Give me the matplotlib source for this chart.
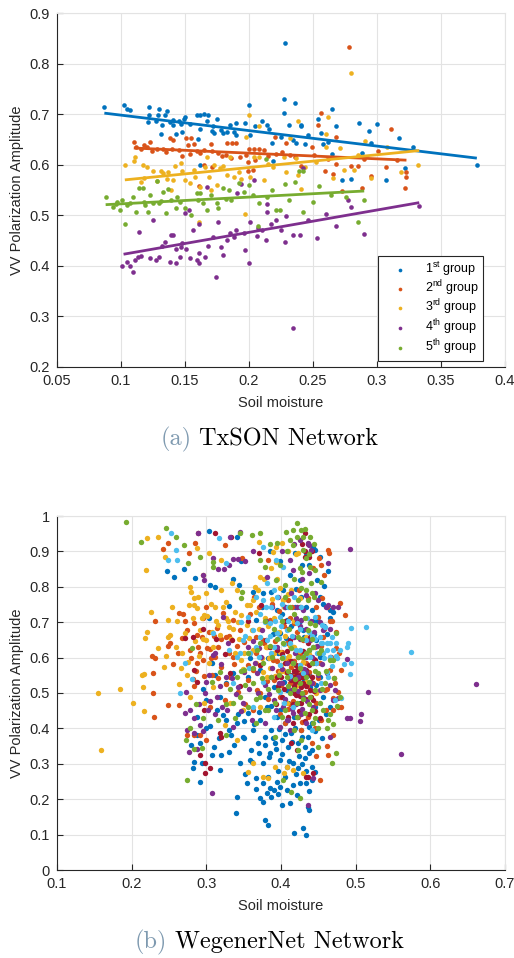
import matplotlib
matplotlib.use("Agg")
import matplotlib.pyplot as plt
import numpy as np

plt.rcParams['font.family'] = ['Liberation Sans', 'DejaVu Sans']
plt.rcParams['mathtext.fontset'] = 'custom'
plt.rcParams['mathtext.rm'] = 'Liberation Sans'
plt.rcParams['mathtext.it'] = 'Liberation Sans:italic'

# ---------------- colours (MATLAB default order) ----------------
C_BLUE, C_ORANGE, C_YELLOW, C_PURPLE, C_GREEN, C_CYAN, C_DRED = (
    '#0072BD', '#D95319', '#EDB120', '#7E2F8E', '#77AC30', '#4DBEEE', '#A2142F')

# ---------------- (a) TxSON data ----------------
tx_labels = ['1$^{\\rm st}$ group', '2$^{\\rm nd}$ group', '3$^{\\rm rd}$ group',
             '4$^{\\rm th}$ group', '5$^{\\rm th}$ group']

tx_g1 = [(0.087,0.714),(0.102,0.718),(0.105,0.711),(0.107,0.708),(0.122,0.714),(0.122,0.699),(0.121,0.684),
 (0.130,0.711),(0.129,0.699),(0.127,0.687),(0.136,0.707),(0.134,0.699),(0.132,0.679),(0.131,0.660),
 (0.141,0.689),(0.141,0.678),(0.143,0.660),(0.147,0.681),(0.149,0.691),(0.150,0.695),(0.148,0.664),
 (0.154,0.681),(0.159,0.699),(0.162,0.699),(0.165,0.701),(0.168,0.699),(0.167,0.687),(0.162,0.670),
 (0.160,0.650),(0.162,0.600),(0.175,0.691),(0.172,0.676),(0.173,0.662),(0.178,0.669),(0.185,0.678),
 (0.183,0.664),(0.190,0.683),(0.190,0.659),(0.200,0.718),(0.197,0.682),(0.201,0.659),(0.210,0.687),
 (0.205,0.677),(0.214,0.679),(0.216,0.670),(0.219,0.608),(0.218,0.642),(0.228,0.840),(0.227,0.730),
 (0.227,0.702),(0.231,0.679),(0.236,0.722),(0.234,0.649),(0.237,0.642),(0.241,0.679),(0.241,0.676),
 (0.244,0.641),(0.254,0.691),(0.256,0.663),(0.258,0.641),(0.265,0.710),(0.268,0.676),(0.265,0.621),
 (0.273,0.570),(0.280,0.572),(0.286,0.683),(0.288,0.624),(0.294,0.667),(0.295,0.643),(0.300,0.680),
 (0.307,0.570),(0.317,0.652),(0.322,0.593),(0.328,0.636),(0.378,0.600),(0.188,0.664),(0.138,0.684),
 (0.145,0.686),(0.171,0.666),(0.180,0.662),(0.225,0.655),(0.246,0.658),(0.262,0.645)]

tx_g2 = [(0.110,0.644),(0.112,0.635),(0.116,0.632),(0.120,0.635),(0.123,0.644),(0.124,0.628),(0.128,0.632),
 (0.133,0.631),(0.138,0.652),(0.141,0.648),(0.140,0.632),(0.145,0.630),(0.151,0.652),(0.155,0.652),
 (0.152,0.639),(0.148,0.617),(0.157,0.641),(0.154,0.621),(0.159,0.627),(0.161,0.558),(0.165,0.600),
 (0.165,0.630),(0.170,0.641),(0.171,0.627),(0.171,0.596),(0.176,0.623),(0.179,0.618),(0.183,0.643),
 (0.187,0.643),(0.190,0.643),(0.186,0.613),(0.193,0.616),(0.198,0.619),(0.200,0.631),(0.204,0.631),
 (0.208,0.631),(0.203,0.590),(0.205,0.610),(0.199,0.605),(0.199,0.588),(0.212,0.630),(0.220,0.655),
 (0.221,0.621),(0.226,0.626),(0.229,0.643),(0.232,0.619),(0.241,0.597),(0.249,0.636),(0.256,0.703),
 (0.254,0.679),(0.251,0.619),(0.259,0.588),(0.266,0.582),(0.268,0.655),(0.268,0.601),(0.273,0.548),
 (0.278,0.832),(0.280,0.597),(0.285,0.597),(0.288,0.553),(0.295,0.577),(0.301,0.627),(0.307,0.596),
 (0.311,0.671),(0.322,0.553),(0.323,0.576),(0.323,0.585),(0.118,0.638),(0.135,0.626),(0.162,0.624),
 (0.182,0.620),(0.215,0.618),(0.236,0.615),(0.262,0.612),(0.290,0.612),(0.316,0.610)]

tx_g3 = [(0.103,0.600),(0.111,0.616),(0.110,0.608),(0.116,0.565),(0.117,0.600),(0.120,0.596),(0.118,0.574),
 (0.125,0.588),(0.128,0.567),(0.131,0.588),(0.133,0.583),(0.136,0.572),(0.139,0.550),(0.142,0.598),
 (0.141,0.570),(0.147,0.603),(0.148,0.588),(0.150,0.570),(0.154,0.563),(0.158,0.576),(0.162,0.555),
 (0.166,0.596),(0.167,0.616),(0.169,0.576),(0.170,0.550),(0.175,0.560),(0.173,0.600),(0.177,0.593),
 (0.183,0.580),(0.185,0.616),(0.188,0.576),(0.192,0.586),(0.194,0.572),(0.200,0.699),(0.198,0.655),
 (0.197,0.502),(0.201,0.576),(0.204,0.616),(0.208,0.676),(0.208,0.616),(0.212,0.570),(0.219,0.596),
 (0.227,0.616),(0.229,0.585),(0.232,0.652),(0.237,0.613),(0.238,0.580),(0.238,0.687),(0.241,0.551),
 (0.244,0.596),(0.161,0.486),(0.260,0.660),(0.260,0.636),(0.262,0.695),(0.266,0.573),(0.271,0.633),
 (0.274,0.589),(0.280,0.781),(0.282,0.590),(0.291,0.647),(0.295,0.573),(0.308,0.636),(0.319,0.586),
 (0.332,0.600),(0.137,0.585),(0.157,0.590),(0.180,0.598),(0.215,0.602),(0.252,0.606),(0.285,0.620)]

tx_g4 = [(0.101,0.400),(0.105,0.407),(0.107,0.400),(0.109,0.388),(0.111,0.411),(0.113,0.418),(0.114,0.467),
 (0.116,0.420),(0.123,0.416),(0.125,0.491),(0.127,0.411),(0.130,0.418),(0.134,0.448),(0.138,0.408),
 (0.139,0.462),(0.141,0.462),(0.143,0.405),(0.143,0.434),(0.147,0.438),(0.146,0.418),(0.150,0.505),
 (0.151,0.434),(0.153,0.510),(0.154,0.415),(0.156,0.471),(0.159,0.411),(0.161,0.482),(0.161,0.405),
 (0.161,0.425),(0.166,0.418),(0.167,0.555),(0.172,0.458),(0.174,0.377),(0.176,0.487),(0.178,0.438),
 (0.180,0.421),(0.183,0.452),(0.188,0.458),(0.190,0.471),(0.191,0.545),(0.194,0.561),(0.196,0.464),
 (0.197,0.432),(0.200,0.405),(0.201,0.487),(0.204,0.570),(0.206,0.459),(0.210,0.471),(0.214,0.522),
 (0.214,0.506),(0.213,0.451),(0.217,0.483),(0.221,0.491),(0.228,0.448),(0.229,0.499),(0.234,0.278),
 (0.234,0.461),(0.240,0.462),(0.242,0.593),(0.246,0.491),(0.253,0.456),(0.260,0.502),(0.268,0.478),
 (0.277,0.530),(0.280,0.517),(0.290,0.463),(0.333,0.518),(0.132,0.440),(0.148,0.445),(0.168,0.440),
 (0.185,0.465),(0.207,0.475),(0.225,0.470)]

tx_g5 = [(0.088,0.537),(0.094,0.517),(0.097,0.526),(0.099,0.510),(0.101,0.530),(0.103,0.483),(0.105,0.520),
 (0.109,0.536),(0.112,0.506),(0.114,0.553),(0.117,0.553),(0.118,0.527),(0.121,0.507),(0.123,0.540),
 (0.125,0.524),(0.128,0.568),(0.130,0.524),(0.133,0.547),(0.135,0.504),(0.137,0.551),(0.139,0.530),
 (0.143,0.514),(0.144,0.537),(0.150,0.515),(0.155,0.500),(0.159,0.545),(0.162,0.545),(0.164,0.524),
 (0.167,0.510),(0.170,0.540),(0.175,0.524),(0.176,0.514),(0.180,0.553),(0.184,0.550),(0.186,0.530),
 (0.192,0.563),(0.196,0.547),(0.200,0.560),(0.203,0.540),(0.207,0.479),(0.208,0.524),(0.213,0.612),
 (0.214,0.537),(0.218,0.550),(0.221,0.510),(0.224,0.510),(0.228,0.561),(0.231,0.530),(0.236,0.565),
 (0.239,0.588),(0.242,0.588),(0.242,0.506),(0.250,0.526),(0.255,0.557),(0.264,0.541),(0.276,0.537),
 (0.285,0.487),(0.290,0.530),(0.096,0.522),(0.107,0.524),(0.119,0.520),(0.131,0.528),(0.146,0.526),
 (0.160,0.530),(0.182,0.532)]

tx_groups = [tx_g1, tx_g2, tx_g3, tx_g4, tx_g5]
tx_colors = [C_BLUE, C_ORANGE, C_YELLOW, C_PURPLE, C_GREEN]

# fitted regression line endpoints (x0, x1), (y0, y1)
tx_fit_x = [(0.087, 0.378), (0.110, 0.323), (0.103, 0.333), (0.102, 0.333), (0.088, 0.290)]
tx_fit_y = [(0.702, 0.613), (0.633, 0.609), (0.570, 0.628), (0.423, 0.525), (0.521, 0.548)]

tx_xticks = [0.05, 0.1, 0.15, 0.2, 0.25, 0.3, 0.35, 0.4]
tx_xticklabels = ['0.05', '0.1', '0.15', '0.2', '0.25', '0.3', '0.35', '0.4']
tx_yticks = [0.2, 0.3, 0.4, 0.5, 0.6, 0.7, 0.8, 0.9]

# ---------------- (b) WegenerNet data ----------------
wn_blue = [(0.303,0.957),(0.341,0.942),(0.347,0.874),(0.247,0.844),(0.257,0.827),(0.270,0.850),(0.285,0.824),
 (0.305,0.805),(0.311,0.800),(0.336,0.821),(0.344,0.805),(0.331,0.746),(0.303,0.711),(0.341,0.207),
 (0.340,0.160),(0.379,0.141),(0.382,0.127),(0.418,0.104),(0.429,0.118),(0.433,0.099),(0.412,0.188),
 (0.402,0.185),(0.436,0.179),(0.438,0.169),(0.372,0.202),(0.376,0.193),(0.381,0.217),(0.376,0.245),
 (0.385,0.231),(0.390,0.226),(0.398,0.235),(0.408,0.226),(0.416,0.240),(0.425,0.245),(0.434,0.245),
 (0.441,0.254),(0.367,0.259),(0.354,0.245),(0.292,0.248),(0.282,0.287),(0.283,0.306),(0.294,0.301),
 (0.308,0.325),(0.320,0.325),(0.331,0.334),(0.345,0.301),(0.358,0.311),(0.376,0.301),(0.385,0.330),
 (0.398,0.311),(0.408,0.292),(0.416,0.301),(0.423,0.287),(0.432,0.315),(0.441,0.292),(0.445,0.278),
 (0.280,0.353),(0.292,0.358),(0.300,0.400),(0.305,0.407),(0.287,0.433),(0.300,0.480),(0.314,0.452),
 (0.327,0.424),(0.341,0.414),(0.349,0.377),(0.356,0.443),(0.363,0.395),(0.369,0.358),(0.372,0.424),
 (0.378,0.377),(0.381,0.461),(0.387,0.395),(0.392,0.358),(0.394,0.433),(0.401,0.367),(0.405,0.414),
 (0.410,0.348),(0.414,0.386),(0.418,0.433),(0.423,0.358),(0.427,0.395),(0.432,0.348),(0.436,0.377),
 (0.441,0.414),(0.445,0.461),(0.439,0.518),(0.443,0.584),(0.447,0.650),(0.445,0.706),(0.441,0.734),
 (0.443,0.913),(0.445,0.904),(0.434,0.895),(0.463,0.844),(0.456,0.751),(0.465,0.734),(0.470,0.730),
 (0.425,0.819),(0.412,0.833),(0.403,0.791),(0.405,0.744),(0.394,0.734),(0.387,0.786),(0.376,0.782),
 (0.363,0.786),(0.356,0.546),(0.336,0.556),(0.327,0.527),(0.318,0.490),(0.307,0.584),(0.372,0.565),
 (0.390,0.546),(0.408,0.508),(0.425,0.471),(0.452,0.546),(0.456,0.490),(0.465,0.461),(0.434,0.603),
 (0.416,0.631),(0.398,0.669),(0.408,0.706),(0.430,0.678),(0.452,0.603),(0.383,0.262),(0.395,0.250),
 (0.420,0.270),(0.428,0.300),(0.437,0.330),(0.396,0.280),(0.360,0.340),(0.350,0.420),(0.333,0.380),
 (0.370,0.330),(0.378,0.352),(0.384,0.318),(0.389,0.372),(0.393,0.341),(0.397,0.398),(0.402,0.327),
 (0.406,0.383),(0.411,0.309),(0.415,0.361),(0.419,0.402),(0.424,0.323),(0.428,0.376),(0.433,0.281),
 (0.437,0.405),(0.442,0.338),(0.446,0.392),(0.451,0.425),(0.455,0.372),(0.460,0.441),(0.364,0.412),
 (0.371,0.447),(0.379,0.489),(0.386,0.462),(0.391,0.518),(0.399,0.451),(0.404,0.532),(0.409,0.472),
 (0.417,0.553),(0.422,0.497),(0.431,0.538),(0.438,0.622),(0.444,0.667),(0.449,0.702),(0.457,0.690),
 (0.462,0.668),(0.466,0.712),(0.433,0.742),(0.427,0.770),(0.420,0.794),(0.448,0.820),(0.452,0.885),
 (0.438,0.862),(0.350,0.372),(0.343,0.441),(0.337,0.352),(0.330,0.395),(0.322,0.437),(0.317,0.372),
 (0.310,0.348),(0.361,0.304),(0.396,0.215),(0.405,0.262),(0.387,0.205),
 (0.358,0.598),(0.366,0.705),(0.374,0.742),(0.382,0.598),(0.389,0.668),(0.396,0.612),(0.401,0.722),
 (0.407,0.655),(0.413,0.688),(0.419,0.742),(0.426,0.702),(0.431,0.658),(0.437,0.552),(0.447,0.522),
 (0.452,0.772),(0.458,0.802),(0.398,0.872),(0.385,0.902),(0.419,0.895),(0.428,0.862),(0.312,0.552),
 (0.296,0.512),(0.288,0.380),(0.318,0.282),(0.352,0.272),(0.366,0.228),(0.422,0.212),(0.438,0.222)]

wn_orange = [(0.228,0.499),(0.230,0.431),(0.229,0.557),(0.227,0.605),(0.231,0.702),(0.231,0.598),(0.242,0.906),
 (0.248,0.925),(0.249,0.632),(0.249,0.466),(0.263,0.725),(0.264,0.466),(0.269,0.722),(0.268,0.654),
 (0.274,0.678),(0.277,0.895),(0.283,0.697),(0.285,0.925),(0.279,0.598),(0.282,0.539),(0.287,0.584),
 (0.289,0.631),(0.294,0.659),(0.296,0.593),(0.300,0.743),(0.304,0.673),(0.305,0.623),(0.308,0.551),
 (0.312,0.603),(0.314,0.683),(0.316,0.631),(0.319,0.652),(0.322,0.725),(0.325,0.918),(0.327,0.659),
 (0.332,0.546),(0.336,0.603),(0.336,0.706),(0.345,0.678),(0.348,0.880),(0.351,0.645),(0.356,0.537),
 (0.358,0.612),(0.363,0.565),(0.366,0.659),(0.368,0.508),(0.372,0.499),(0.376,0.650),(0.381,0.631),
 (0.383,0.876),(0.385,0.706),(0.389,0.593),(0.390,0.537),(0.394,0.669),(0.398,0.490),(0.401,0.617),
 (0.403,0.565),(0.406,0.414),(0.408,0.640),(0.412,0.527),(0.414,0.574),(0.416,0.476),(0.418,0.697),
 (0.421,0.612),(0.423,0.433),(0.425,0.546),(0.427,0.395),(0.430,0.650),(0.432,0.504),(0.434,0.584),
 (0.436,0.433),(0.439,0.697),(0.441,0.358),(0.443,0.527),(0.445,0.631),(0.447,0.471),(0.450,0.716),
 (0.453,0.862),(0.452,0.584),(0.454,0.424),(0.456,0.659),(0.459,0.508),(0.463,0.904),(0.464,0.895),
 (0.465,0.565),(0.466,0.702),(0.469,0.452),(0.472,0.527),(0.474,0.626),(0.476,0.461),(0.479,0.753),
 (0.481,0.565),(0.486,0.720),(0.447,0.323),(0.463,0.325),(0.481,0.461),(0.452,0.254),(0.412,0.711),
 (0.283,0.381),(0.292,0.381),(0.305,0.461),(0.300,0.367),(0.274,0.381),(0.407,0.560),(0.417,0.590),
 (0.426,0.610),(0.395,0.590),(0.412,0.470),(0.438,0.560),
 (0.366,0.612),(0.372,0.578),(0.377,0.641),(0.381,0.533),(0.386,0.602),(0.392,0.647),(0.396,0.561),
 (0.400,0.522),(0.404,0.688),(0.409,0.593),(0.413,0.631),(0.417,0.548),(0.422,0.672),(0.426,0.579),
 (0.431,0.612),(0.435,0.521),(0.440,0.653),(0.444,0.597),(0.449,0.541),(0.453,0.632),(0.458,0.681),
 (0.462,0.512),(0.467,0.603),(0.471,0.542),(0.476,0.503),(0.341,0.632),(0.337,0.582),(0.330,0.612),
 (0.326,0.525),(0.320,0.574),(0.315,0.541),(0.310,0.662),(0.306,0.598),(0.301,0.628),(0.297,0.548),
 (0.292,0.612),(0.288,0.665),(0.284,0.520),(0.398,0.442),(0.410,0.455),(0.428,0.418),(0.445,0.402),
 (0.460,0.452),(0.470,0.485),(0.383,0.482),(0.352,0.470),(0.362,0.452),(0.325,0.480),
 (0.359,0.722),(0.364,0.772),(0.371,0.742),(0.388,0.752),(0.397,0.732),(0.409,0.762),(0.415,0.742),
 (0.424,0.792),(0.436,0.768),(0.447,0.742),(0.455,0.768),(0.462,0.742),(0.468,0.702),(0.473,0.672),
 (0.478,0.612),(0.451,0.882),(0.443,0.852),(0.458,0.832),(0.296,0.712),(0.286,0.562),(0.278,0.622),
 (0.272,0.702),(0.262,0.612),(0.255,0.582),(0.252,0.642),(0.342,0.502),(0.356,0.580),(0.330,0.660),
 (0.470,0.380),(0.462,0.350)]

wn_yellow = [(0.155,0.499),(0.185,0.510),(0.202,0.471),(0.159,0.338),(0.217,0.450),(0.215,0.518),(0.214,0.550),
 (0.217,0.554),(0.226,0.730),(0.218,0.656),(0.220,0.673),(0.219,0.847),(0.220,0.937),(0.235,0.941),
 (0.244,0.885),(0.235,0.626),(0.243,0.574),(0.246,0.605),(0.248,0.659),(0.249,0.706),(0.252,0.664),
 (0.260,0.631),(0.264,0.526),(0.267,0.612),(0.271,0.669),(0.278,0.800),(0.280,0.786),(0.283,0.767),
 (0.277,0.749),(0.283,0.749),(0.276,0.588),(0.287,0.739),(0.291,0.678),(0.294,0.711),(0.297,0.720),
 (0.287,0.911),(0.295,0.833),(0.303,0.895),(0.300,0.650),(0.303,0.584),(0.309,0.631),(0.318,0.664),
 (0.319,0.876),(0.316,0.692),(0.327,0.758),(0.331,0.687),(0.334,0.810),(0.338,0.730),(0.343,0.701),
 (0.341,0.791),(0.347,0.720),(0.354,0.749),(0.358,0.749),(0.361,0.678),(0.365,0.800),(0.367,0.730),
 (0.371,0.927),(0.372,0.829),(0.378,0.711),(0.380,0.631),(0.356,0.278),(0.363,0.301),(0.376,0.264),
 (0.383,0.259),(0.389,0.899),(0.393,0.871),(0.398,0.796),(0.401,0.923),(0.403,0.763),(0.408,0.292),
 (0.412,0.584),(0.414,0.791),(0.416,0.282),(0.417,0.702),(0.421,0.546),(0.423,0.895),(0.425,0.767),
 (0.427,0.499),(0.430,0.273),(0.434,0.659),(0.341,0.367),(0.325,0.410),(0.309,0.518),(0.297,0.471),
 (0.278,0.490),(0.274,0.551),(0.332,0.471),(0.349,0.452),(0.398,0.527),(0.408,0.471),(0.367,0.584),
 (0.381,0.546),(0.441,0.546),(0.447,0.499),(0.372,0.461),(0.390,0.612),(0.405,0.598),(0.418,0.631),
 (0.349,0.569),(0.410,0.555),(0.420,0.520),(0.400,0.580),
 (0.351,0.612),(0.357,0.654),(0.362,0.621),(0.370,0.682),(0.374,0.598),(0.385,0.572),(0.392,0.548),
 (0.399,0.615),(0.404,0.562),(0.411,0.604),(0.415,0.541),(0.419,0.578),(0.424,0.620),(0.429,0.588),
 (0.433,0.531),(0.438,0.610),(0.404,0.742),(0.410,0.781),(0.395,0.822),(0.388,0.765),(0.382,0.688),
 (0.344,0.652),(0.336,0.681),(0.329,0.702),(0.322,0.742),(0.313,0.702),(0.307,0.672),(0.301,0.718),
 (0.296,0.652),(0.290,0.605),(0.285,0.648),(0.392,0.290),(0.404,0.275),(0.398,0.560),(0.416,0.512),
 (0.427,0.562),
 (0.261,0.702),(0.254,0.742),(0.266,0.572),(0.282,0.712),(0.289,0.772),(0.299,0.782),(0.306,0.752),
 (0.312,0.742),(0.320,0.792),(0.326,0.712),(0.333,0.652),(0.339,0.612),(0.346,0.592),(0.355,0.692),
 (0.362,0.762),(0.369,0.792),(0.377,0.822),(0.386,0.852),(0.391,0.712),(0.397,0.672),(0.405,0.662),
 (0.412,0.632),(0.420,0.892),(0.409,0.902),(0.393,0.912),(0.384,0.600),(0.376,0.560),(0.430,0.600)]

wn_purple = [(0.661,0.526),(0.561,0.327),(0.516,0.503),(0.507,0.440),(0.506,0.421),(0.493,0.906),(0.488,0.428),
 (0.492,0.428),(0.488,0.596),(0.476,0.485),(0.465,0.377),(0.463,0.868),(0.463,0.749),(0.345,0.956),
 (0.332,0.942),(0.289,0.953),(0.296,0.833),(0.297,0.819),(0.309,0.880),(0.315,0.850),(0.324,0.850),
 (0.331,0.862),(0.336,0.879),(0.342,0.879),(0.322,0.716),(0.329,0.640),(0.273,0.504),(0.274,0.395),
 (0.272,0.443),(0.277,0.334),(0.283,0.428),(0.292,0.410),(0.298,0.499),(0.303,0.551),(0.309,0.607),
 (0.314,0.490),(0.321,0.461),(0.327,0.546),(0.336,0.405),(0.343,0.518),(0.349,0.471),(0.356,0.631),
 (0.361,0.424),(0.365,0.584),(0.369,0.499),(0.374,0.678),(0.378,0.414),(0.381,0.829),(0.386,0.546),
 (0.390,0.480),(0.394,0.631),(0.398,0.405),(0.401,0.527),(0.403,0.461),(0.408,0.584),(0.410,0.424),
 (0.412,0.876),(0.414,0.508),(0.416,0.847),(0.418,0.659),(0.421,0.433),(0.423,0.546),(0.425,0.932),
 (0.427,0.706),(0.430,0.490),(0.432,0.603),(0.434,0.414),(0.436,0.923),(0.438,0.838),(0.439,0.650),
 (0.441,0.527),(0.443,0.461),(0.445,0.782),(0.447,0.584),(0.450,0.763),(0.452,0.508),(0.456,0.678),
 (0.461,0.556),(0.465,0.603),(0.472,0.508),(0.436,0.184),(0.443,0.259),(0.307,0.217),(0.425,0.688),
 (0.430,0.734),(0.408,0.424),(0.416,0.443),(0.420,0.470),(0.428,0.455),(0.412,0.395),(0.433,0.560),
 (0.368,0.557),(0.373,0.602),(0.378,0.523),(0.384,0.498),(0.388,0.572),(0.393,0.452),(0.397,0.528),
 (0.402,0.568),(0.406,0.482),(0.411,0.542),(0.415,0.455),(0.419,0.612),(0.423,0.505),(0.427,0.441),
 (0.431,0.568),(0.435,0.478),(0.440,0.702),(0.444,0.672),(0.448,0.632),(0.452,0.700),(0.428,0.822),
 (0.422,0.742),(0.433,0.778),(0.440,0.905),(0.437,0.918),(0.346,0.448),(0.340,0.498),(0.335,0.542),
 (0.328,0.452),(0.318,0.520),(0.312,0.442),(0.305,0.478),(0.300,0.532),(0.290,0.468),(0.284,0.388),
 (0.278,0.452),(0.470,0.480),(0.466,0.522),
 (0.350,0.560),(0.357,0.512),(0.362,0.648),(0.371,0.628),(0.380,0.702),(0.388,0.742),(0.396,0.772),
 (0.405,0.742),(0.413,0.782),(0.420,0.712),(0.426,0.652),(0.433,0.682),(0.442,0.602),(0.449,0.552),
 (0.455,0.582),(0.460,0.742),(0.466,0.682),(0.470,0.742),(0.476,0.742),(0.320,0.582),(0.312,0.612),
 (0.302,0.452),(0.295,0.392),(0.288,0.342),(0.362,0.902),(0.352,0.872),(0.402,0.902),(0.418,0.922)]

wn_green = [(0.192,0.984),(0.213,0.926),(0.246,0.965),(0.259,0.942),(0.270,0.918),(0.275,0.866),(0.292,0.885),
 (0.309,0.871),(0.309,0.855),(0.345,0.951),(0.361,0.946),(0.372,0.951),(0.422,0.981),(0.416,0.960),
 (0.407,0.956),(0.427,0.960),(0.432,0.962),(0.439,0.942),(0.394,0.923),(0.416,0.918),(0.372,0.876),
 (0.378,0.857),(0.393,0.819),(0.405,0.805),(0.427,0.796),(0.434,0.791),(0.441,0.782),(0.453,0.814),
 (0.430,0.904),(0.439,0.857),(0.445,0.847),(0.348,0.786),(0.347,0.767),(0.281,0.626),(0.273,0.367),
 (0.274,0.254),(0.284,0.343),(0.294,0.344),(0.316,0.424),(0.327,0.381),(0.332,0.510),(0.341,0.546),
 (0.345,0.490),(0.351,0.565),(0.356,0.461),(0.363,0.527),(0.367,0.414),(0.372,0.490),(0.376,0.584),
 (0.383,0.452),(0.387,0.546),(0.392,0.377),(0.396,0.508),(0.401,0.433),(0.403,0.640),(0.408,0.546),
 (0.412,0.499),(0.416,0.584),(0.418,0.395),(0.421,0.471),(0.423,0.659),(0.425,0.527),(0.427,0.367),
 (0.430,0.603),(0.432,0.443),(0.434,0.546),(0.436,0.678),(0.439,0.490),(0.441,0.584),(0.443,0.414),
 (0.445,0.508),(0.450,0.556),(0.452,0.471),(0.454,0.621),(0.459,0.527),(0.463,0.424),(0.468,0.301),
 (0.470,0.593),(0.474,0.330),(0.474,0.669),(0.479,0.490),(0.450,0.348),(0.414,0.221),(0.425,0.202),
 (0.403,0.254),(0.423,0.339),(0.336,0.471),(0.439,0.697),(0.443,0.631),(0.412,0.744),(0.423,0.763),
 (0.410,0.520),(0.419,0.540),(0.428,0.500),(0.437,0.470),(0.446,0.430),
 (0.368,0.622),(0.374,0.542),(0.379,0.452),(0.383,0.512),(0.388,0.602),(0.392,0.472),(0.397,0.552),
 (0.402,0.598),(0.406,0.452),(0.410,0.562),(0.414,0.628),(0.418,0.512),(0.422,0.432),(0.426,0.572),
 (0.430,0.482),(0.434,0.612),(0.438,0.532),(0.442,0.452),(0.446,0.562),(0.450,0.402),(0.455,0.512),
 (0.460,0.562),(0.465,0.442),(0.470,0.412),(0.475,0.462),(0.418,0.822),(0.428,0.842),(0.433,0.882),
 (0.421,0.942),(0.412,0.932),(0.440,0.812),(0.444,0.772),(0.436,0.762),(0.352,0.522),(0.346,0.562),
 (0.338,0.430),(0.326,0.470),(0.318,0.560),(0.307,0.532),(0.296,0.430),(0.286,0.470),(0.278,0.400),
 (0.356,0.612),(0.362,0.572),(0.366,0.482),(0.372,0.642),(0.379,0.702),(0.385,0.632),(0.390,0.682),
 (0.395,0.652),(0.401,0.702),(0.406,0.772),(0.411,0.682),(0.417,0.722),(0.423,0.602),(0.428,0.652),
 (0.432,0.712),(0.437,0.622),(0.441,0.652),(0.446,0.692),(0.451,0.612),(0.456,0.452),(0.461,0.402),
 (0.466,0.592),(0.471,0.542),(0.425,0.852),(0.438,0.892),(0.444,0.922),(0.430,0.942),(0.408,0.902),
 (0.398,0.862),(0.385,0.922)]

wn_cyan = [(0.574,0.616),(0.514,0.687),(0.494,0.683),(0.490,0.640),(0.489,0.631),(0.492,0.554),(0.494,0.585),
 (0.481,0.485),(0.253,0.953),(0.248,0.876),(0.261,0.876),(0.259,0.904),(0.317,0.937),(0.327,0.866),
 (0.376,0.913),(0.393,0.876),(0.381,0.810),(0.390,0.791),(0.265,0.499),(0.272,0.584),(0.281,0.539),
 (0.341,0.603),(0.349,0.650),(0.356,0.716),(0.363,0.678),(0.367,0.631),(0.372,0.659),(0.376,0.763),
 (0.381,0.650),(0.385,0.697),(0.390,0.631),(0.394,0.669),(0.398,0.716),(0.403,0.603),(0.408,0.678),
 (0.412,0.640),(0.416,0.584),(0.421,0.697),(0.425,0.621),(0.430,0.556),(0.434,0.650),(0.439,0.603),
 (0.443,0.631),(0.447,0.584),(0.452,0.659),(0.456,0.612),(0.461,0.640),(0.465,0.603),(0.470,0.621),
 (0.454,0.527),(0.463,0.546),(0.472,0.480),(0.441,0.395),(0.416,0.461),(0.390,0.433),(0.363,0.461),
 (0.336,0.527),(0.309,0.669),(0.367,0.772),(0.403,0.857),(0.445,0.716),(0.459,0.687),(0.468,0.659),
 (0.385,0.660),(0.378,0.700),(0.400,0.690),(0.455,0.640),(0.475,0.600),
 (0.372,0.722),(0.380,0.742),(0.386,0.612),(0.392,0.702),(0.397,0.655),(0.404,0.638),(0.410,0.702),
 (0.415,0.662),(0.420,0.622),(0.426,0.682),(0.432,0.608),(0.437,0.672),(0.442,0.660),(0.448,0.612),
 (0.453,0.640),(0.458,0.598),(0.462,0.622),(0.468,0.575),(0.474,0.605),(0.462,0.560),(0.404,0.472),
 (0.398,0.502),(0.376,0.532),(0.358,0.612),(0.352,0.660),(0.346,0.700),
 (0.386,0.742),(0.394,0.772),(0.401,0.752),(0.409,0.742),(0.417,0.772),(0.427,0.742),(0.435,0.712),
 (0.446,0.652),(0.455,0.692),(0.466,0.642),(0.474,0.642),(0.479,0.622),(0.484,0.582),(0.370,0.602),
 (0.357,0.572),(0.345,0.612),(0.330,0.622),(0.398,0.578),(0.412,0.548),(0.425,0.578)]

wn_dred = [(0.289,0.953),(0.312,0.953),(0.333,0.942),(0.271,0.654),(0.282,0.659),(0.284,0.565),(0.291,0.325),
 (0.298,0.303),(0.298,0.275),(0.305,0.287),(0.313,0.652),(0.320,0.377),(0.332,0.556),(0.356,0.702),
 (0.371,0.895),(0.373,0.750),(0.385,0.631),(0.394,0.546),(0.401,0.490),(0.405,0.584),(0.410,0.433),
 (0.412,0.650),(0.414,0.537),(0.418,0.499),(0.421,0.565),(0.423,0.603),(0.425,0.546),(0.427,0.471),
 (0.430,0.527),(0.432,0.885),(0.432,0.951),(0.434,0.565),(0.436,0.640),(0.439,0.508),(0.441,0.546),
 (0.443,0.273),(0.443,0.480),(0.445,0.593),(0.414,0.358),(0.421,0.339),(0.416,0.414),(0.394,0.621),
 (0.405,0.702),(0.425,0.744),(0.439,0.659),(0.427,0.518),(0.434,0.263),(0.436,0.263),(0.297,0.452),
 (0.318,0.386),(0.428,0.555),(0.422,0.550),(0.431,0.548),(0.418,0.545),
 (0.400,0.545),(0.404,0.512),(0.408,0.560),(0.413,0.590),(0.417,0.520),(0.420,0.580),(0.424,0.530),
 (0.426,0.575),(0.429,0.545),(0.433,0.520),(0.437,0.580),(0.440,0.530),(0.444,0.505),(0.416,0.470),
 (0.424,0.450),(0.432,0.420),(0.438,0.440),(0.410,0.680),(0.422,0.700),(0.430,0.620),(0.441,0.900),
 (0.437,0.885),(0.428,0.920),(0.380,0.650),(0.372,0.580),(0.345,0.520),(0.335,0.650),(0.325,0.610),
 (0.295,0.680),(0.288,0.530),
 (0.412,0.552),(0.417,0.562),(0.419,0.532),(0.423,0.572),(0.426,0.552),(0.431,0.562),(0.435,0.552),
 (0.415,0.505),(0.420,0.495),(0.426,0.492),(0.433,0.482),(0.440,0.490),(0.446,0.450),(0.452,0.430),
 (0.396,0.520),(0.401,0.610),(0.393,0.470),(0.408,0.620),(0.432,0.900),(0.436,0.920)]

# drawing order (later groups are drawn on top)
wn_groups = [wn_blue, wn_orange, wn_yellow, wn_dred, wn_purple, wn_cyan, wn_green]
wn_colors = [C_BLUE, C_ORANGE, C_YELLOW, C_DRED, C_PURPLE, C_CYAN, C_GREEN]

wn_xticks = [0.1, 0.2, 0.3, 0.4, 0.5, 0.6, 0.7]
wn_xticklabels = ['0.1', '0.2', '0.3', '0.4', '0.5', '0.6', '0.7']
wn_yticks = [0, 0.1, 0.2, 0.3, 0.4, 0.5, 0.6, 0.7, 0.8, 0.9, 1]
wn_yticklabels = ['0', '0.1', '0.2', '0.3', '0.4', '0.5', '0.6', '0.7', '0.8', '0.9', '1']

# ---------------- figure ----------------
W, H = 514, 958
fig = plt.figure(figsize=(W / 100, H / 100), dpi=100)

def px_axes(l, t, r, b):
    return fig.add_axes([l / W, 1 - b / H, (r - l) / W, (b - t) / H])

def style(ax):
    ax.grid(True, color='#e3e3e3', lw=0.8)
    ax.set_axisbelow(True)
    for s in ['top', 'right']:
        ax.spines[s].set_color('#e3e3e3')
        ax.spines[s].set_linewidth(0.8)
    for s in ['left', 'bottom']:
        ax.spines[s].set_color('#262626')
        ax.spines[s].set_linewidth(0.8)
    ax.tick_params(direction='in', length=4, width=0.8, colors='#262626',
                   labelsize=10.5, top=False, right=False, pad=5)
    ax.set_xlabel('Soil moisture', fontsize=10.5, color='#262626', labelpad=6)
    ax.set_ylabel('VV Polarization Amplitude', fontsize=10.5, color='#262626', labelpad=4)

# (a)
ax1 = px_axes(57, 13, 505, 367)
style(ax1)
handles = []
for pts, col, lab in zip(tx_groups, tx_colors, tx_labels):
    xs = [p[0] for p in pts]
    ys = [p[1] for p in pts]
    h = ax1.scatter(xs, ys, s=11, color=col, linewidths=0, label=lab, zorder=3)
    handles.append(h)
for fx, fy, col in zip(tx_fit_x, tx_fit_y, tx_colors):
    ax1.plot(fx, fy, color=col, lw=2.0, zorder=4, solid_capstyle='butt')
ax1.set_xlim(0.05, 0.4)
ax1.set_ylim(0.2, 0.9)
ax1.set_xticks(tx_xticks)
ax1.set_xticklabels(tx_xticklabels)
ax1.set_yticks(tx_yticks)
leg = ax1.legend(handles=handles, loc='lower right', bbox_to_anchor=(0.951, 0.017),
                 fontsize=9, frameon=True, fancybox=False, framealpha=1,
                 edgecolor='#262626', labelspacing=0.0, handletextpad=0.6,
                 borderpad=0.35, borderaxespad=0, markerscale=0.8, scatterpoints=1,
                 handlelength=2.8)
leg.get_frame().set_linewidth(0.8)
leg.set_zorder(10)

fig.text(192 / W, 1 - 439 / H, '(a)', fontsize=17.5, family='cmr10', color='#7f9ab0',
         ha='right', va='center')
fig.text(199 / W, 1 - 439 / H, 'TxSON Network', fontsize=17.5, family='cmr10', color='black',
         ha='left', va='center')

# (b)
ax2 = px_axes(57, 516, 505, 870)
style(ax2)
for pts, col in zip(wn_groups, wn_colors):
    xs = [p[0] for p in pts]
    ys = [p[1] for p in pts]
    ax2.scatter(xs, ys, s=15, color=col, linewidths=0, zorder=3)
ax2.set_xlim(0.1, 0.7)
ax2.set_ylim(0, 1)
ax2.set_xticks(wn_xticks)
ax2.set_xticklabels(wn_xticklabels)
ax2.set_yticks(wn_yticks)
ax2.set_yticklabels(wn_yticklabels)

fig.text(167 / W, 1 - 942 / H, '(b)', fontsize=17.5, family='cmr10', color='#7f9ab0',
         ha='right', va='center')
fig.text(175 / W, 1 - 942 / H, 'WegenerNet Network', fontsize=17.5, family='cmr10', color='black',
         ha='left', va='center')

fig.savefig('out.png', dpi=100)
